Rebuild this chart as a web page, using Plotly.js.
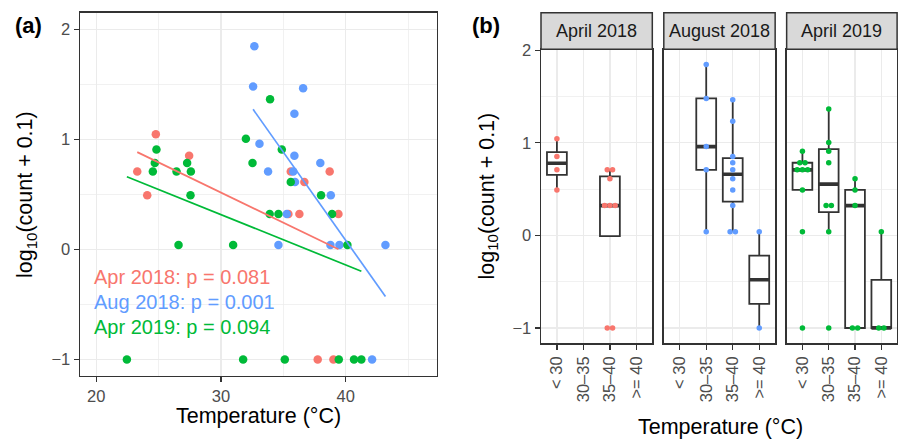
<!DOCTYPE html>
<html>
<head>
<meta charset="utf-8">
<script src="https://cdn.plot.ly/plotly-3.0.1.min.js"></script>
<style>html,body{margin:0;padding:0;background:#fff;}#chart{width:898px;height:439px;}</style>
</head>
<body>
<div id="chart"></div>
<script>
// ---------------- DATA ----------------
const groupNames = ['Apr 2018', 'Aug 2018', 'Apr 2019'];
const facetTitles = ['April 2018', 'August 2018', 'April 2019'];
const tempBins = ['< 30', '30\u201335', '35\u201340', '>= 40'];
const pLabels = ['Apr 2018: p = 0.081', 'Aug 2018: p = 0.001', 'Apr 2019: p = 0.094'];

const tempApr2018 = [24.78, 27.45, 23.29, 24.09, 35.6, 38.72, 36.69, 35.41, 36.29, 39.42, 37.76, 39.02];
const logApr2018  = [1.045, 0.851, 0.708, 0.491, 0.708, 0.708, 0.613, 0.322, 0.322, 0.322, -1, -1];

const tempAug2018 = [32.68, 32.58, 36.59, 35.89, 33.09, 35.89, 37.97, 33.78, 35.8, 35.94, 38.81, 35.28, 34.61, 38.78, 39.5, 43.19, 42.12];
const logAug2018  = [1.846, 1.479, 1.464, 1.233, 0.959, 0.851, 0.785, 0.708, 0.708, 0.613, 0.491, 0.322, 0.041, 0.041, 0.041, 0.041, -1];

const tempApr2019 = [33.94, 32.0, 24.83, 34.88, 24.7, 27.29, 32.53, 24.54, 26.44, 27.59, 35.6, 27.56, 38.03, 33.91, 34.61, 38.91, 26.6, 30.98, 40.14, 22.46, 31.78, 35.12, 39.45, 40.67, 41.26];
const logApr2019  = [1.364, 1.004, 0.908, 0.908, 0.785, 0.785, 0.785, 0.708, 0.708, 0.708, 0.613, 0.491, 0.491, 0.322, 0.322, 0.322, 0.041, 0.041, 0.041, -1, -1, -1, -1, -1, -1];

// ---------------- STYLE ----------------
const colors = ['#F8766D', '#619CFF', '#00BA38'];
const FONT = 'Liberation Sans, Arial, Helvetica, sans-serif';
const GRID = '#EBEBEB';
const DARK = '#333333';
const temps = [tempApr2018, tempAug2018, tempApr2019];
const vals = [logApr2018, logAug2018, logApr2019];

function binOf(t) { return t < 30 ? 0 : (t < 35 ? 1 : (t < 40 ? 2 : 3)); }
function q7(s, p) { const n = s.length; const h = (n - 1) * p; const lo = Math.floor(h); const hi = Math.min(lo + 1, n - 1); return s[lo] + (h - lo) * (s[hi] - s[lo]); }
function fit(xs, ys) {
  const n = xs.length; const mx = xs.reduce((a, b) => a + b, 0) / n; const my = ys.reduce((a, b) => a + b, 0) / n;
  let sxy = 0, sxx = 0; for (let i = 0; i < n; i++) { sxy += (xs[i] - mx) * (ys[i] - my); sxx += (xs[i] - mx) ** 2; }
  const b = sxy / sxx; return { a: my - b * mx, b: b };
}

const traces = [];
// Panel (a): points
for (let g = 0; g < 3; g++) {
  traces.push({ type: 'scatter', mode: 'markers', x: temps[g], y: vals[g], xaxis: 'x', yaxis: 'y', name: groupNames[g],
    marker: { color: colors[g], size: 8.5 }, showlegend: false, cliponaxis: true });
}
// Panel (a): regression lines
for (let g = 0; g < 3; g++) {
  const f = fit(temps[g], vals[g]);
  const x0 = Math.min(...temps[g]), x1 = Math.max(...temps[g]);
  traces.push({ type: 'scatter', mode: 'lines', x: [x0, x1], y: [f.a + f.b * x0, f.a + f.b * x1], xaxis: 'x', yaxis: 'y',
    line: { color: colors[g], width: 1.7 }, showlegend: false, hoverinfo: 'skip' });
}

// Panel (b): facets
const axSuffix = ['2', '3', '4'];
for (let g = 0; g < 3; g++) {
  const xa = 'x' + axSuffix[g], ya = 'y' + axSuffix[g];
  const bx = [], q1 = [], md = [], q3 = [], lf = [], uf = [];
  const medX = [], medY = [];
  const px = [], py = [];
  for (let b = 0; b < 4; b++) {
    const ys = [];
    temps[g].forEach((t, i) => { if (binOf(t) === b) ys.push(vals[g][i]); });
    if (!ys.length) continue;
    const s = ys.slice().sort((a, c) => a - c);
    const Q1 = q7(s, 0.25), M = q7(s, 0.5), Q3 = q7(s, 0.75), iqr = Q3 - Q1;
    const inl = s.filter(v => v >= Q1 - 1.5 * iqr && v <= Q3 + 1.5 * iqr);
    bx.push(b); q1.push(Q1); md.push(M); q3.push(Q3);
    lf.push(Math.min(inl[0], Q1)); uf.push(Math.max(inl[inl.length - 1], Q3));
    medX.push(b - 0.375, b + 0.375, null); medY.push(M, M, null);
    // spread identical values side by side
    const groups = {};
    ys.forEach(v => { const k = v.toFixed(3); (groups[k] = groups[k] || []).push(v); });
    Object.values(groups).forEach(arr => {
      arr.forEach((v, k) => { px.push(b + (k - (arr.length - 1) / 2) * 0.2); py.push(v); });
    });
  }
  traces.push({ type: 'box', x: bx, q1: q1, median: md, q3: q3, lowerfence: lf, upperfence: uf,
    xaxis: xa, yaxis: ya, width: 0.75, whiskerwidth: 0, boxpoints: false, fillcolor: '#FFFFFF',
    line: { color: DARK, width: 1.8 }, showlegend: false, hoverinfo: 'skip' });
  traces.push({ type: 'scatter', mode: 'lines', x: medX, y: medY, xaxis: xa, yaxis: ya,
    line: { color: DARK, width: 3.6 }, showlegend: false, hoverinfo: 'skip' });
  traces.push({ type: 'scatter', mode: 'markers', x: px, y: py, xaxis: xa, yaxis: ya,
    marker: { color: colors[g], size: 5.5 }, showlegend: false });
}

// ---------------- LAYOUT ----------------
const tickFont = { family: FONT, size: 16.5, color: '#4D4D4D' };
const baseAxis = {
  showline: true, linecolor: DARK, linewidth: 1.5, mirror: true, zeroline: false,
  ticks: 'outside', ticklen: 5, tickwidth: 1.2, tickcolor: DARK, tickfont: tickFont,
  showgrid: true, gridcolor: GRID, gridwidth: 1.3, fixedrange: true
};
const facetX = [[0.60245, 0.72640], [0.73920, 0.86320], [0.87600, 0.99900]];
const yDomB = [0.2180, 0.8877];

const layout = {
  width: 898, height: 439, margin: { l: 0, r: 0, t: 0, b: 0 },
  paper_bgcolor: '#FFFFFF', plot_bgcolor: '#FFFFFF', showlegend: false,
  font: { family: FONT, size: 16.5, color: '#4D4D4D' },
  xaxis: Object.assign({}, baseAxis, { domain: [0.08909, 0.48630], range: [18.7, 47.3], anchor: 'y',
    tick0: 0, dtick: 10, minor: { dtick: 5, tick0: 0, showgrid: true, gridcolor: GRID, gridwidth: 0.7, ticks: '' } }),
  yaxis: Object.assign({}, baseAxis, { domain: [0.14351, 0.97107], range: [-1.15, 2.15], anchor: 'x',
    tick0: 0, dtick: 1, minor: { dtick: 0.5, tick0: 0, showgrid: true, gridcolor: GRID, gridwidth: 0.7, ticks: '' } }),
  annotations: [], shapes: []
};
for (let g = 0; g < 3; g++) {
  const s = axSuffix[g];
  layout['xaxis' + s] = Object.assign({}, baseAxis, { domain: facetX[g], range: [-0.6, 3.6], anchor: 'y' + s,
    tickmode: 'array', tickvals: [0, 1, 2, 3], ticktext: tempBins, tickangle: -90 });
  const yax = Object.assign({}, baseAxis, { domain: yDomB, range: [-1.165, 2.01], anchor: 'x' + s,
    tick0: 0, dtick: 1, minor: { dtick: 0.5, tick0: 0, showgrid: true, gridcolor: GRID, gridwidth: 0.7, ticks: '' } });
  if (g > 0) { yax.matches = 'y2'; yax.showticklabels = false; yax.ticks = ''; }
  layout['yaxis' + s] = yax;
  // strip
  layout.shapes.push({ type: 'rect', xref: 'paper', yref: 'paper', x0: facetX[g][0], x1: facetX[g][1],
    y0: 0.8877, y1: 0.9711, fillcolor: '#D9D9D9', line: { color: DARK, width: 1.5 }, layer: 'above' });
  layout.annotations.push({ xref: 'paper', yref: 'paper', x: (facetX[g][0] + facetX[g][1]) / 2, y: 0.9294,
    text: facetTitles[g], showarrow: false, xanchor: 'center', yanchor: 'middle',
    font: { family: FONT, size: 18, color: '#1A1A1A' } });
}
// p-value labels
const pY = [0.3690, 0.3121, 0.2558];
for (let g = 0; g < 3; g++) {
  layout.annotations.push({ xref: 'paper', yref: 'paper', x: 0.1021, y: pY[g], text: pLabels[g], showarrow: false,
    xanchor: 'left', yanchor: 'middle', font: { family: FONT, size: 20, color: colors[g] } });
}
// axis titles
const titleFont = { family: FONT, size: 21.5, color: '#000000' };
layout.annotations.push(
  { xref: 'paper', yref: 'paper', x: 0.2879, y: 0.0524, text: 'Temperature (°C)', showarrow: false, xanchor: 'center', yanchor: 'middle', font: titleFont },
  { xref: 'paper', yref: 'paper', x: 0.8018, y: 0.0278, text: 'Temperature (°C)', showarrow: false, xanchor: 'center', yanchor: 'middle', font: titleFont },
  { xref: 'paper', yref: 'paper', x: 0.029, y: 0.5558, text: 'log<sub>10</sub>(count + 0.1)', textangle: -90, showarrow: false, xanchor: 'center', yanchor: 'middle', font: titleFont },
  { xref: 'paper', yref: 'paper', x: 0.5429, y: 0.5535, text: 'log<sub>10</sub>(count + 0.1)', textangle: -90, showarrow: false, xanchor: 'center', yanchor: 'middle', font: titleFont },
  { xref: 'paper', yref: 'paper', x: 0.0141, y: 0.9408, text: '<b>(a)</b>', showarrow: false, xanchor: 'left', yanchor: 'middle', font: { family: FONT, size: 22, color: '#000000' } },
  { xref: 'paper', yref: 'paper', x: 0.5234, y: 0.9408, text: '<b>(b)</b>', showarrow: false, xanchor: 'left', yanchor: 'middle', font: { family: FONT, size: 22, color: '#000000' } }
);

Plotly.newPlot('chart', traces, layout, { staticPlot: true, displayModeBar: false });
</script>
</body>
</html>
